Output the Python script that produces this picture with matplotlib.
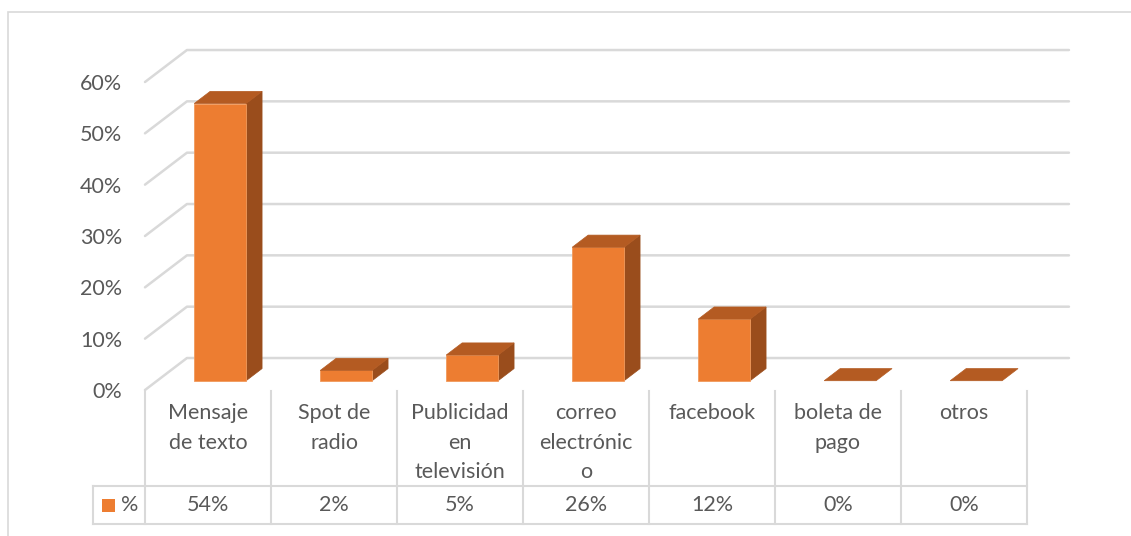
import matplotlib
matplotlib.use("Agg")
import matplotlib.pyplot as plt
from matplotlib.patches import Polygon, Rectangle

plt.rcParams['font.family'] = ['Lato', 'DejaVu Sans']

# data
categories = ["Mensaje\nde texto", "Spot de\nradio", "Publicidad\nen\ntelevisión",
              "correo\nelectrónic\no", "facebook", "boleta de\npago", "otros"]
values = [54, 2, 5, 26, 12, 0, 0]
series_name = "%"
y_ticks = [0, 10, 20, 30, 40, 50, 60]

# colours
FRONT = "#ED7D31"
TOP = "#B45B22"
SIDE = "#9A4D1C"
GRID = "#D9D9D9"
TEXT = "#595959"
FS = 15.5

# oblique 3d look: depth vector in data units
DX, DY = 0.333, 6.23
T0, T1 = 0.29, 0.67     # bar front / back depth
HALF_W = 0.206


def proj(x, y, t):
    return (x + t * DX, y + t * DY)


W, H = 1131, 536
fig = plt.figure(figsize=(W / 100, H / 100), dpi=100)

# chart frame (runs off the right and bottom edges)
fig.add_artist(Rectangle((8 / W, -0.1), 1.2, 1.1 - 12 / H, transform=fig.transFigure,
                         fill=False, edgecolor=GRID, linewidth=1.2))

ax = fig.add_axes([145 / W, (H - 390) / H, (1027 - 145) / W, (390 - 82) / H])
ax.set_xlim(-0.5, len(categories) - 0.5)
ax.set_ylim(0, 60)
for s in ax.spines.values():
    s.set_visible(False)
ax.set_xticks([])
ax.set_yticks(y_ticks)
ax.set_yticklabels([f"{v}%" for v in y_ticks])
ax.tick_params(axis='y', length=0, pad=16.5, labelsize=FS, labelcolor=TEXT)
ax.patch.set_alpha(0)

# gridlines: left side wall diagonal + back wall
x_left = -0.5
x_right = len(categories) - 0.5
for v in y_ticks:
    bx, by = proj(x_left, v, 1)
    ax.plot([x_left, bx, x_right + DX], [v, by, by], color=GRID, lw=1.8,
            solid_capstyle='round', zorder=1, clip_on=False)

# bars
for i, v in enumerate(values):
    xl, xr = i - HALF_W, i + HALF_W
    fl = proj(xl, 0, T0)
    fr = proj(xr, 0, T0)
    tl = proj(xl, v, T0)
    tr = proj(xr, v, T0)
    btl = proj(xl, v, T1)
    btr = proj(xr, v, T1)
    bbr = proj(xr, 0, T1)
    if v > 0:
        ax.add_patch(Polygon([fr, tr, btr, bbr], closed=True, facecolor=SIDE,
                             edgecolor=SIDE, lw=0.5, zorder=3, clip_on=False))
        ax.add_patch(Polygon([fl, fr, tr, tl], closed=True, facecolor=FRONT,
                             edgecolor="#F19A5C", lw=0.6, zorder=4, clip_on=False))
    ax.add_patch(Polygon([tl, tr, btr, btl], closed=True, facecolor=TOP,
                         edgecolor=TOP, lw=0.5, zorder=4, clip_on=False))

# data table
tab = fig.add_axes([145 / W, (H - 524) / H, (1027 - 145) / W, (524 - 391) / H], sharex=ax)
tab.set_ylim(0, 3.5)
tab.axis('off')
key_left = -0.913
for k in range(len(categories) + 1):
    tab.plot([k - 0.5, k - 0.5], [0, 3.5], color=GRID, lw=1.5, clip_on=False)
for yy in (0, 1):
    tab.plot([key_left, x_right], [yy, yy], color=GRID, lw=1.5, clip_on=False)
tab.plot([key_left, key_left], [0, 1], color=GRID, lw=1.5, clip_on=False)

pitch = 0.78
for i, (cat, v) in enumerate(zip(categories, values)):
    for j, line in enumerate(cat.split("\n")):
        tab.text(i, 2.92 - j * pitch, line, ha='center', va='center',
                 fontsize=FS, color=TEXT, clip_on=False)
    tab.text(i, 0.5, f"{v}%", ha='center', va='center', fontsize=FS, color=TEXT)

tab.add_patch(Rectangle((-0.84, 0.32), 0.105, 0.34, facecolor=FRONT, edgecolor='none',
                        clip_on=False))
tab.text(-0.62, 0.5, series_name, ha='center', va='center', fontsize=FS, color=TEXT,
         clip_on=False)

fig.savefig("out.png", dpi=100)
